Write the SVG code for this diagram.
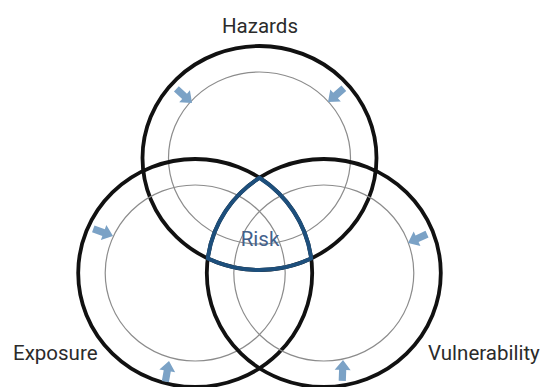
<svg xmlns="http://www.w3.org/2000/svg" xmlns:xlink="http://www.w3.org/1999/xlink" width="545" height="387" viewBox="0 0 545 387">
<style>
.outer{fill:none;stroke:#111;stroke-width:3.8}
.inner{fill:none;stroke:#8c8c8c;stroke-width:1.2}
.risk{fill:none;stroke:#1d4f7c;stroke-width:4;stroke-linejoin:round}
.arrow{fill:#7ba2c6}
.label{font-family:Roboto,"Liberation Sans",Arial,sans-serif;font-size:20.5px;fill:#2b2b2b}
.risklabel{font-family:Roboto,"Liberation Sans",Arial,sans-serif;font-size:20.5px;fill:#43618c}
</style>
<defs>
<path id="arr" d="M0,0 L-10,-8 L-10,-3.6 L-21,-3.6 L-21,3.6 L-10,3.6 L-10,8 Z"/>
</defs>
<rect width="545" height="387" fill="#fff"/>
<g id="hazards">
<ellipse class="inner" cx="259.5" cy="158" rx="91" ry="86"/>
<ellipse class="outer" cx="259.5" cy="158" rx="117" ry="112"/>
<text class="label" x="260" y="33" text-anchor="middle">Hazards</text>
</g>
<g id="exposure">
<ellipse class="inner" cx="195.2" cy="273" rx="90" ry="88"/>
<ellipse class="outer" cx="195.2" cy="273" rx="117" ry="114"/>
<text class="label" x="13" y="360">Exposure</text>
</g>
<g id="vulnerability">
<ellipse class="inner" cx="323.8" cy="273" rx="90" ry="88"/>
<ellipse class="outer" cx="323.8" cy="273" rx="117" ry="114"/>
<text class="label" x="428" y="360">Vulnerability</text>
</g>
<g id="risk">
<path class="risk" d="M259.5,177.8 A117,114 0 0 0 207.8,258.5 A117,112 0 0 0 311.2,258.5 A117,114 0 0 0 259.5,177.8 Z"/>
<text class="risklabel" x="260" y="246" text-anchor="middle">Risk</text>
</g>
<g id="arrows">
<use xlink:href="#arr" class="arrow" transform="translate(192,103) rotate(42)"/>
<use xlink:href="#arr" class="arrow" transform="translate(328,102) rotate(139)"/>
<use xlink:href="#arr" class="arrow" transform="translate(113,236) rotate(20)"/>
<use xlink:href="#arr" class="arrow" transform="translate(408,243) rotate(155)"/>
<use xlink:href="#arr" class="arrow" transform="translate(169,361) rotate(-80)"/>
<use xlink:href="#arr" class="arrow" transform="translate(343,360) rotate(-88)"/>
</g>
</svg>
